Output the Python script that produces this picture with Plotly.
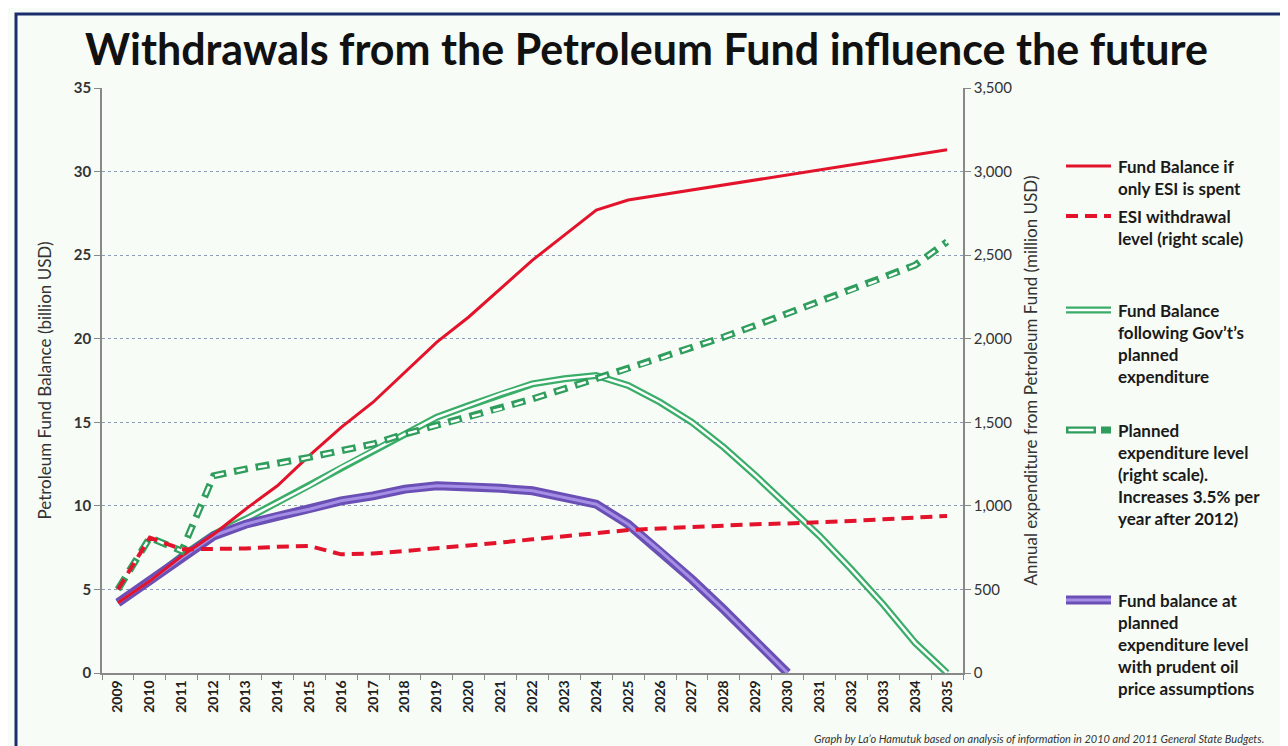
import plotly.graph_objects as go

years = [str(y) for y in range(2009, 2036)]

# Fund balances (billion USD, left scale)
fund_esi_only = [4.2, 5.5, 7.0, 8.3, 9.8, 11.2, 13.0, 14.7, 16.2, 18.0, 19.8, 21.3, 23.0, 24.7,
                 26.2, 27.7, 28.3, 28.6, 28.9, 29.2, 29.5, 29.8, 30.1, 30.4, 30.7, 31.0, 31.3]
fund_gov_plan = [4.2, 5.5, 7.0, 8.3, 9.2, 10.2, 11.2, 12.3, 13.3, 14.3, 15.3, 16.0, 16.7, 17.3,
                 17.6, 17.8, 17.2, 16.2, 15.0, 13.5, 11.8, 10.0, 8.2, 6.2, 4.1, 1.8, 0.0]
fund_prudent = [4.2, 5.5, 6.9, 8.2, 8.9, 9.4, 9.8, 10.3, 10.6, 11.0, 11.2, 11.15, 11.05, 10.9,
                10.5, 10.1, 8.9, 7.3, 5.6, 3.8, 1.9, 0.0]

# Annual withdrawals (million USD, right scale)
esi_withdrawal = [500, 810, 740, 740, 745, 755, 760, 710, 715, 730, 745, 760, 780, 800,
                  820, 840, 855, 865, 875, 880, 890, 895, 900, 910, 920, 930, 940]
planned_expenditure = [500, 810, 730, 1180, 1220, 1250, 1290, 1330, 1370, 1430, 1480, 1530, 1580,
                       1640, 1700, 1760, 1820, 1880, 1950, 2010, 2080, 2150, 2220, 2290, 2360,
                       2440, 2580]

RED = "#e3132c"
GREEN = "#2f9e5c"
GREEN_LIGHT = "#3aad68"
PURPLE = "#6a4fb5"
PURPLE_IN = "#a48ee6"
BG = "#f7fcf7"
FONT = "Lato"

fig = go.Figure()

# Green double line (Gov't plan)
fig.add_trace(go.Scatter(x=years, y=fund_gov_plan, mode="lines",
                         line=dict(color=GREEN_LIGHT, width=7), hoverinfo="skip", showlegend=False))
fig.add_trace(go.Scatter(x=years, y=fund_gov_plan, mode="lines",
                         line=dict(color="white", width=2.5), hoverinfo="skip", showlegend=False))
# Green dashed double line (planned expenditure, right scale)
fig.add_trace(go.Scatter(x=years, y=planned_expenditure, mode="lines", yaxis="y2",
                         line=dict(color=GREEN, width=7, dash="14px,8px"),
                         hoverinfo="skip", showlegend=False))
fig.add_trace(go.Scatter(x=years, y=planned_expenditure, mode="lines", yaxis="y2",
                         line=dict(color="white", width=2.5, dash="0px,2.5px,9px,10.5px"),
                         hoverinfo="skip", showlegend=False))
# Purple double line (prudent oil price)
fig.add_trace(go.Scatter(x=years[:len(fund_prudent)], y=fund_prudent, mode="lines",
                         line=dict(color=PURPLE, width=9), hoverinfo="skip", showlegend=False))
fig.add_trace(go.Scatter(x=years[:len(fund_prudent)], y=fund_prudent, mode="lines",
                         line=dict(color=PURPLE_IN, width=3), hoverinfo="skip", showlegend=False))
# Red solid (ESI only)
fig.add_trace(go.Scatter(x=years, y=fund_esi_only, mode="lines",
                         line=dict(color=RED, width=3), hoverinfo="skip", showlegend=False))
# Red dashed (ESI withdrawal, right scale)
fig.add_trace(go.Scatter(x=years, y=esi_withdrawal, mode="lines", yaxis="y2",
                         line=dict(color=RED, width=4, dash="12px,7px"),
                         hoverinfo="skip", showlegend=False))

# ---- Layout geometry (pixels) ----
W, H = 1288, 746
L, R, T, B = 94, 955, 80, 665
pw, ph = R - L, B - T


def px(x):
    return (x - L) / pw


def py(y):
    return (B - y) / ph


shapes = []
annotations = []

# Outer frame
shapes.append(dict(type="rect", xref="paper", yref="paper",
                   x0=px(8), x1=px(1300), y0=py(6), y1=py(760),
                   line=dict(color="#1c2d6e", width=3), fillcolor="rgba(0,0,0,0)", layer="above"))

# Manual legend
sym_x0, sym_x1 = 1058, 1103
text_x = 1108
legend_items = [
    (158, ["Fund Balance if", "only ESI is spent"], "red_solid"),
    (208, ["ESI withdrawal", "level (right scale)"], "red_dash"),
    (302, ["Fund Balance", "following Gov\u2019t\u2019s", "planned", "expenditure"], "green_double"),
    (422, ["Planned", "expenditure level", "(right scale).", "Increases 3.5% per", "year after 2012)"], "green_dash"),
    (592, ["Fund balance at", "planned", "expenditure level", "with prudent oil", "price assumptions"], "purple"),
]
for ytop, lines, kind in legend_items:
    ys = py(ytop)
    base = dict(type="line", xref="paper", yref="paper", x0=px(sym_x0), x1=px(sym_x1), y0=ys, y1=ys)
    if kind == "red_solid":
        shapes.append({**base, "line": dict(color=RED, width=3)})
    elif kind == "red_dash":
        shapes.append({**base, "line": dict(color=RED, width=4, dash="12px,7px")})
    elif kind == "green_double":
        shapes.append({**base, "line": dict(color=GREEN_LIGHT, width=7)})
        shapes.append({**base, "line": dict(color="white", width=2.5)})
    elif kind == "green_dash":
        shapes.append({**base, "line": dict(color=GREEN, width=7, dash="30px,5px,10px,10px")})
        shapes.append({**base, "line": dict(color="white", width=2.5, dash="0px,2.5px,25px,20px")})
    elif kind == "purple":
        shapes.append({**base, "line": dict(color=PURPLE, width=9)})
        shapes.append({**base, "line": dict(color=PURPLE_IN, width=3)})
    annotations.append(dict(xref="paper", yref="paper", x=px(text_x), y=py(ytop - 12),
                            xanchor="left", yanchor="top", align="left", showarrow=False,
                            text="<br>".join(lines),
                            font=dict(family=FONT, size=17, color="#1a1a1a", weight="bold"),
                            ))

# Title
annotations.append(dict(xref="paper", yref="paper", x=px(638), y=py(40), xanchor="center", yanchor="middle",
                        showarrow=False, text="<b>Withdrawals from the Petroleum Fund influence the future</b>",
                        font=dict(family=FONT, size=43, color="#111")))
# Footer
annotations.append(dict(xref="paper", yref="paper", x=px(1258), y=py(730), xanchor="right", yanchor="middle",
                        showarrow=False,
                        text="<i>Graph by La\u2019o Hamutuk based on analysis of information in 2010 and 2011 General State Budgets.</i>",
                        font=dict(family=FONT, size=11, color="#333")))

fig.update_layout(
    width=W, height=H,
    margin=dict(l=L, r=W - R, t=T, b=H - B, autoexpand=False),
    paper_bgcolor=BG, plot_bgcolor=BG,
    showlegend=False,
    font=dict(family=FONT, color="#333"),
    xaxis=dict(type="category", tickangle=-90, tickson="boundaries", ticks="outside", ticklen=5,
               tickcolor="#888", showline=True, linecolor="#888", linewidth=1.5, showgrid=False,
               tickfont=dict(family=FONT, size=14, color="#222", weight="bold"),
               range=[-0.5, len(years) - 0.5]),
    yaxis=dict(range=[0, 35], dtick=5, ticks="outside", ticklen=6, tickcolor="#888",
               showline=True, linecolor="#888", linewidth=1.5,
               showgrid=True, gridcolor="#8d9bbb", griddash="dot", gridwidth=1, zeroline=False,
               tickfont=dict(family=FONT, size=15, color="#333", weight="bold"),
               title=dict(text="Petroleum Fund Balance (billion USD)", standoff=18,
                          font=dict(family=FONT, size=17, color="#333"))),
    yaxis2=dict(range=[0, 3500], dtick=500, overlaying="y", side="right", tickformat=",",
                ticks="outside", ticklen=6, tickcolor="#888",
                showline=True, linecolor="#888", linewidth=1.5, showgrid=False, zeroline=False,
                tickfont=dict(family=FONT, size=15, color="#333"),
                title=dict(text="Annual expenditure from Petroleum Fund (million USD)", standoff=14,
                           font=dict(family=FONT, size=17, color="#333"))),
    shapes=shapes,
    annotations=annotations,
)

fig.write_html("out.html")
